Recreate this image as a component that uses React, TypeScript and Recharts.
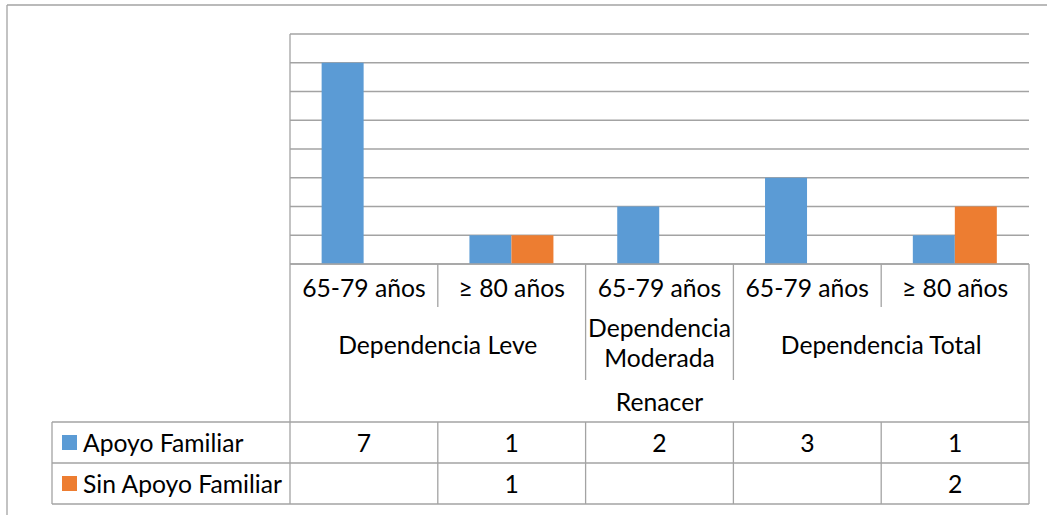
import { BarChart, Bar, XAxis, YAxis, CartesianGrid } from "recharts";

const ageGroups = ["65-79 años", "≥ 80 años", "65-79 años", "65-79 años", "≥ 80 años"];
const dependency = [
  "Dependencia Leve",
  "Dependencia Leve",
  "Dependencia Moderada",
  "Dependencia Total",
  "Dependencia Total",
];
const apoyoFamiliar = [7, 1, 2, 3, 1];
const sinApoyoFamiliar = [null, 1, null, null, 2];
const centerName = "Renacer";
const seriesNames = ["Apoyo Familiar", "Sin Apoyo Familiar"];
const yTicks = [0, 1, 2, 3, 4, 5, 6, 7, 8];

const data = ageGroups.map((age, i) => ({
  age,
  apoyo: apoyoFamiliar[i],
  sinApoyo: sinApoyoFamiliar[i],
}));

const W = 1047;
const H = 515;
const PLOT_LEFT = 290;
const PLOT_RIGHT = 1029;
const PLOT_TOP = 34;
const PLOT_BOTTOM = 264;
const BAND = (PLOT_RIGHT - PLOT_LEFT) / ageGroups.length;

const BLUE = "#5B9BD5";
const ORANGE = "#ED7D31";
const LINE = "#a3a3a3";
const FONT = "Lato, 'Noto Sans', sans-serif";
const FS = 24.7;

// table rows below the plot (offsets from the axis line)
const ROW_AGE = 23;
const ROW_GROUP = 80;
const ROW_CENTER = 137;
const TABLE_TOP = 158;
const ROW_1 = 178;
const ROW_MID = 199;
const ROW_2 = 219;
const TABLE_BOTTOM = 240;

const cellText = (x: number, y: number, s: string | number | null) =>
  s === null ? null : (
    <text
      x={x}
      y={y}
      textAnchor="middle"
      dominantBaseline="central"
      fontFamily={FONT}
      fontSize={FS}
      fill="#000"
    >
      {s}
    </text>
  );

const TableTick = (props: any) => {
  const { x, y, index } = props;
  const left = x - BAND / 2;
  const right = x + BAND / 2;
  const group = dependency[index];
  const newGroup = index === 0 || dependency[index - 1] !== group;
  let span = 1;
  while (index + span < dependency.length && dependency[index + span] === group) span++;
  const groupX = x + ((span - 1) * BAND) / 2;
  const words = group.split(" ");
  const wrap = span === 1;

  return (
    <g>
      {cellText(x, y + ROW_AGE, ageGroups[index])}
      {index > 0 && (
        <line
          x1={left}
          x2={left}
          y1={y}
          y2={y + (newGroup ? 116 : 43)}
          stroke={LINE}
          strokeWidth={1.3}
        />
      )}
      {index > 0 && (
        <line x1={left} x2={left} y1={y + TABLE_TOP} y2={y + TABLE_BOTTOM} stroke={LINE} strokeWidth={1.3} />
      )}
      {index === ageGroups.length - 1 && (
        <line x1={right} x2={right} y1={y} y2={y + TABLE_BOTTOM} stroke={LINE} strokeWidth={1.3} />
      )}
      {newGroup && !wrap && cellText(groupX, y + ROW_GROUP, group)}
      {newGroup && wrap && (
        <text
          x={groupX}
          y={y + ROW_GROUP}
          textAnchor="middle"
          fontFamily={FONT}
          fontSize={FS}
          fill="#000"
        >
          <tspan x={groupX} dy={-7}>
            {words[0]}
          </tspan>
          <tspan x={groupX} dy={30}>
            {words.slice(1).join(" ")}
          </tspan>
        </text>
      )}
      {index === 0 && cellText(x + ((ageGroups.length - 1) * BAND) / 2, y + ROW_CENTER, centerName)}
      {cellText(x, y + ROW_1, apoyoFamiliar[index])}
      {cellText(x, y + ROW_2, sinApoyoFamiliar[index])}
    </g>
  );
};

export default function App() {
  const tY = PLOT_BOTTOM + TABLE_TOP;
  const mY = PLOT_BOTTOM + ROW_MID;
  const bY = PLOT_BOTTOM + TABLE_BOTTOM;
  return (
    <div style={{ position: "absolute", left: 0, top: 0, width: W, height: H, background: "#fff" }}>
      <BarChart
        width={W}
        height={H}
        data={data}
        margin={{ top: PLOT_TOP, right: W - PLOT_RIGHT, bottom: H - PLOT_BOTTOM - 240, left: PLOT_LEFT }}
        barCategoryGap="21.4%"
        barGap={0}
      >
        <CartesianGrid horizontal vertical={false} stroke={LINE} strokeWidth={1.3} />
        <YAxis hide width={0} domain={[0, 8]} ticks={yTicks} />
        <XAxis
          dataKey="age"
          height={240}
          interval={0}
          tickLine={false}
          tickSize={0}
          tickMargin={0}
          axisLine={{ stroke: LINE, strokeWidth: 1.3 }}
          tick={(p: any) => <TableTick {...p} />}
        />
        <Bar dataKey="apoyo" name={seriesNames[0]} fill={BLUE} isAnimationActive={false} />
        <Bar dataKey="sinApoyo" name={seriesNames[1]} fill={ORANGE} isAnimationActive={false} />

        {/* outer frame */}
        <line x1={7} x2={W} y1={5} y2={5} stroke={LINE} strokeWidth={1.3} />
        <line x1={7} x2={7} y1={5} y2={H} stroke={LINE} strokeWidth={1.3} />

        {/* plot / table left edge */}
        <line x1={PLOT_LEFT} x2={PLOT_LEFT} y1={PLOT_TOP} y2={bY} stroke={LINE} strokeWidth={1.3} />

        {/* data table rows with legend keys */}
        <line x1={52} x2={PLOT_RIGHT} y1={tY} y2={tY} stroke={LINE} strokeWidth={1.3} />
        <line x1={52} x2={PLOT_RIGHT} y1={mY} y2={mY} stroke={LINE} strokeWidth={1.3} />
        <line x1={52} x2={PLOT_RIGHT} y1={bY} y2={bY} stroke={LINE} strokeWidth={1.3} />
        <line x1={52} x2={52} y1={tY} y2={bY} stroke={LINE} strokeWidth={1.3} />
        <rect x={62} y={PLOT_BOTTOM + ROW_1 - 7} width={15} height={15} fill={BLUE} />
        <rect x={62} y={PLOT_BOTTOM + ROW_2 - 7} width={15} height={15} fill={ORANGE} />
        <text x={83} y={PLOT_BOTTOM + ROW_1} dominantBaseline="central" fontFamily={FONT} fontSize={FS}>
          {seriesNames[0]}
        </text>
        <text x={83} y={PLOT_BOTTOM + ROW_2} dominantBaseline="central" fontFamily={FONT} fontSize={FS}>
          {seriesNames[1]}
        </text>
      </BarChart>
    </div>
  );
}
